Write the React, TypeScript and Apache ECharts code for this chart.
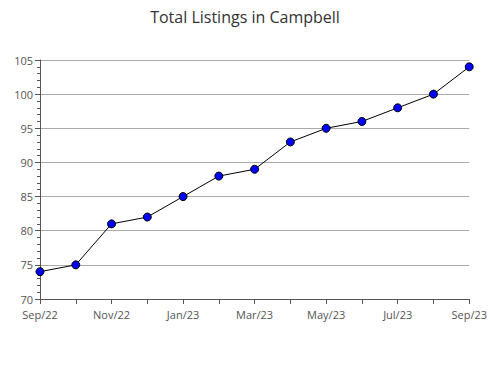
import React, { useEffect, useRef } from "react";
import * as echarts from "echarts";

const months = ["Sep/22", "Oct/22", "Nov/22", "Dec/22", "Jan/23", "Feb/23", "Mar/23", "Apr/23", "May/23", "Jun/23", "Jul/23", "Aug/23", "Sep/23"];
const listings = [74, 75, 81, 82, 85, 88, 89, 93, 95, 96, 98, 100, 104];
const titleText = "Total Listings in Campbell";

export default function App() {
  const ref = useRef<HTMLDivElement>(null);
  useEffect(() => {
    if (!ref.current) return;
    const chart = echarts.init(ref.current, null, { renderer: "svg" });
    chart.setOption({
      animation: false,
      backgroundColor: "#ffffff",
      textStyle: { fontFamily: "Open Sans" },
      title: {
        text: titleText,
        left: "center",
        top: 4,
        textStyle: { fontFamily: "Open Sans", fontSize: 16, fontWeight: "normal", color: "#333" },
      },
      grid: { left: 40, right: 15, top: 60, bottom: 81 },
      xAxis: {
        type: "category",
        data: months,
        boundaryGap: false,
        axisLine: { lineStyle: { color: "#555", width: 1 } },
        axisTick: { interval: 0, length: 5, lineStyle: { color: "#555" } },
        axisLabel: { interval: 1, color: "#555", fontSize: 11, margin: 9, lineHeight: 12, fontFamily: "Open Sans" },
        splitLine: { show: false },
      },
      yAxis: {
        type: "value",
        min: 70,
        max: 105,
        interval: 5,
        axisLine: { show: true, lineStyle: { color: "#555", width: 1 } },
        axisTick: { show: true, length: 5, inside: false, lineStyle: { color: "#555" } },
        minorTick: { show: true, splitNumber: 5, length: 3, lineStyle: { color: "#555" } },
        axisLabel: { color: "#555", fontSize: 11, margin: 7, fontFamily: "Open Sans", lineHeight: 10, padding: [0, 0, 3, 0] },
        splitLine: { show: true, lineStyle: { color: "#aaa", width: 1 } },
      },
      series: [
        {
          type: "line",
          data: listings,
          symbol: "circle",
          symbolSize: 8,
          lineStyle: { color: "#000", width: 1 },
          itemStyle: { color: "#0000ff", borderColor: "#000", borderWidth: 1 },
        },
      ],
    });
    return () => chart.dispose();
  }, []);
  return <div ref={ref} style={{ position: "fixed", left: 0, top: 0, width: 490, height: 380 }} />;
}
